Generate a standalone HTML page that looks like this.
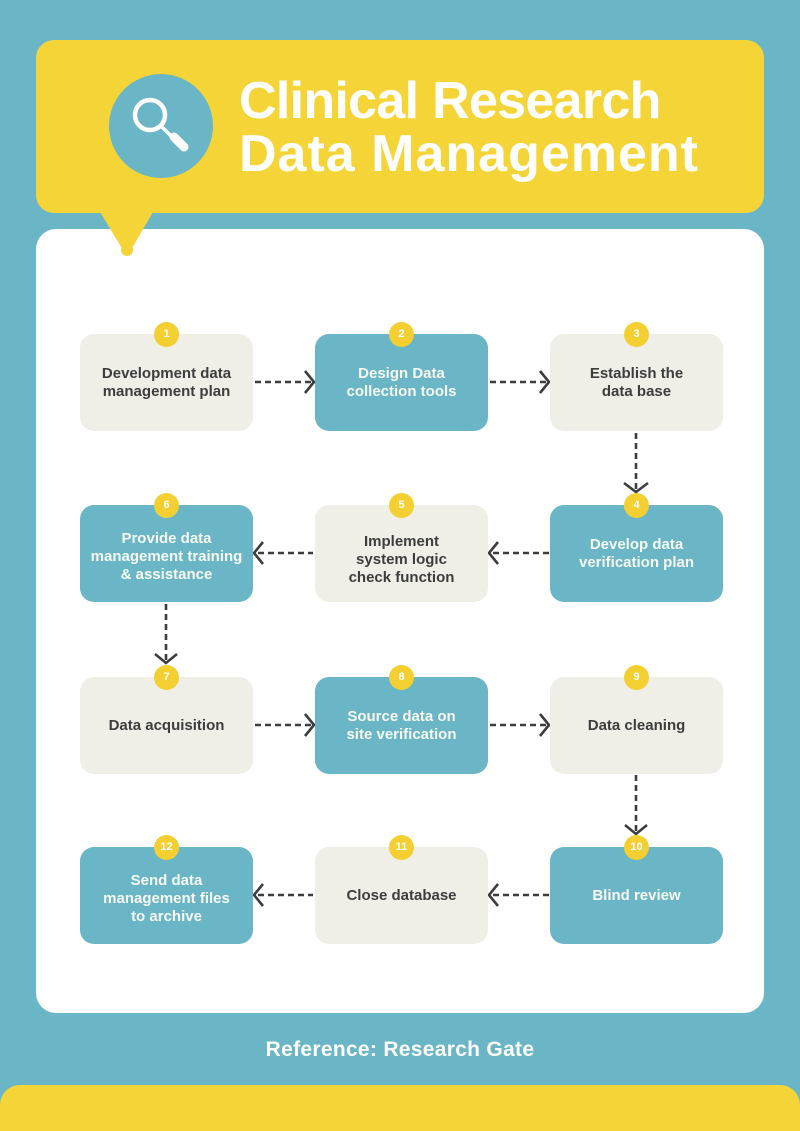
<!DOCTYPE html>
<html><head><meta charset="utf-8"><style>
*{margin:0;padding:0;box-sizing:border-box}
html,body{width:800px;height:1131px;overflow:hidden}
body{background:#6bb6c6;position:relative;font-family:"Liberation Sans",sans-serif}
.hdr{position:absolute;left:36px;top:40px;width:728px;height:173px;background:#f5d437;border-radius:18px}
.panel{position:absolute;left:36px;top:229px;width:728px;height:784px;background:#fff;border-radius:20px}
.title{position:absolute;left:239px;top:75px;font-size:52px;line-height:53px;font-weight:bold;color:#fff;white-space:nowrap}
.title span{display:block}
.box{position:absolute;width:173px;height:97px;border-radius:14px;display:flex;align-items:center;justify-content:center;text-align:center;font-weight:bold;font-size:15px;line-height:18px}
.l{background:#efefe7;color:#3d3d3d}
.t{background:#6ab5c6;color:#f7faf3}
.b{position:absolute;width:25px;height:25px;border-radius:50%;background:#f3cf32;color:#fff;font-weight:bold;font-size:11px;line-height:25px;text-align:center}
.foot{position:absolute;left:0;width:800px;top:1039px;text-align:center;font-size:21px;line-height:21px;font-weight:bold;color:#fff;letter-spacing:0.3px}
.bot{position:absolute;left:0;top:1085px;width:800px;height:80px;background:#f5d437;border-radius:20px 20px 0 0}
</style></head><body>
<div class="hdr"></div>
<div class="panel"></div>
<svg width="800" height="1131" style="position:absolute;left:0;top:0">
<polygon points="100,212 153,212 131,250 123,250" fill="#f5d437"/>
<circle cx="127" cy="250" r="6" fill="#f5d437"/>
<circle cx="161" cy="126" r="52" fill="#6bb6c6"/>
<circle cx="150" cy="115" r="15" fill="none" stroke="#fff" stroke-width="4.5"/>
<line x1="161" y1="126" x2="172" y2="137" stroke="#fff" stroke-width="3.5" stroke-linecap="round"/>
<line x1="174" y1="137" x2="184" y2="147" stroke="#fff" stroke-width="9" stroke-linecap="round"/>
<g fill="none" stroke="#3d3d3d" stroke-width="2.6">
<line x1="255" y1="382" x2="311" y2="382" stroke-dasharray="6 4"/>
<polyline points="305,371 314,382 305,393"/>
<line x1="490" y1="382" x2="546" y2="382" stroke-dasharray="6 4"/>
<polyline points="540,371 549,382 540,393"/>
<line x1="258" y1="553" x2="313" y2="553" stroke-dasharray="6 4"/>
<polyline points="263,542 254,553 263,564"/>
<line x1="493" y1="553" x2="549" y2="553" stroke-dasharray="6 4"/>
<polyline points="498,542 489,553 498,564"/>
<line x1="255" y1="725" x2="311" y2="725" stroke-dasharray="6 4"/>
<polyline points="305,714 314,725 305,736"/>
<line x1="490" y1="725" x2="546" y2="725" stroke-dasharray="6 4"/>
<polyline points="540,714 549,725 540,736"/>
<line x1="258" y1="895" x2="313" y2="895" stroke-dasharray="6 4"/>
<polyline points="263,884 254,895 263,906"/>
<line x1="493" y1="895" x2="549" y2="895" stroke-dasharray="6 4"/>
<polyline points="498,884 489,895 498,906"/>
<line x1="636" y1="433" x2="636" y2="490" stroke-dasharray="6 4"/>
<polyline points="624,483 636,492 648,483"/>
<line x1="166" y1="604" x2="166" y2="661" stroke-dasharray="6 4"/>
<polyline points="155,654 166,663 177,654"/>
<line x1="636" y1="775" x2="636" y2="832" stroke-dasharray="6 4"/>
<polyline points="625,825 636,834 647,825"/>
</g>
</svg>
<div class="title"><span style="letter-spacing:-0.7px">Clinical Research</span><span style="letter-spacing:1px">Data Management</span></div>

<div class="box l" style="left:80px;top:334px">Development data<br>management plan</div>
<div class="box t" style="left:315px;top:334px">Design Data<br>collection tools</div>
<div class="box l" style="left:550px;top:334px">Establish the<br>data base</div>

<div class="box t" style="left:80px;top:505px;padding-top:7px">Provide data<br>management training<br>&amp; assistance</div>
<div class="box l" style="left:315px;top:505px;padding-top:13px">Implement<br>system logic<br>check function</div>
<div class="box t" style="left:550px;top:505px">Develop data<br>verification plan</div>

<div class="box l" style="left:80px;top:677px">Data acquisition</div>
<div class="box t" style="left:315px;top:677px">Source data on<br>site verification</div>
<div class="box l" style="left:550px;top:677px">Data cleaning</div>

<div class="box t" style="left:80px;top:847px;padding-top:7px">Send data<br>management files<br>to archive</div>
<div class="box l" style="left:315px;top:847px">Close database</div>
<div class="box t" style="left:550px;top:847px">Blind review</div>

<div class="b" style="left:154px;top:322px">1</div>
<div class="b" style="left:389px;top:322px">2</div>
<div class="b" style="left:624px;top:322px">3</div>
<div class="b" style="left:624px;top:493px">4</div>
<div class="b" style="left:389px;top:493px">5</div>
<div class="b" style="left:154px;top:493px">6</div>
<div class="b" style="left:154px;top:665px">7</div>
<div class="b" style="left:389px;top:665px">8</div>
<div class="b" style="left:624px;top:665px">9</div>
<div class="b" style="left:624px;top:835px">10</div>
<div class="b" style="left:389px;top:835px">11</div>
<div class="b" style="left:154px;top:835px">12</div>

<div class="foot">Reference: Research Gate</div>
<div class="bot"></div>
</body></html>
